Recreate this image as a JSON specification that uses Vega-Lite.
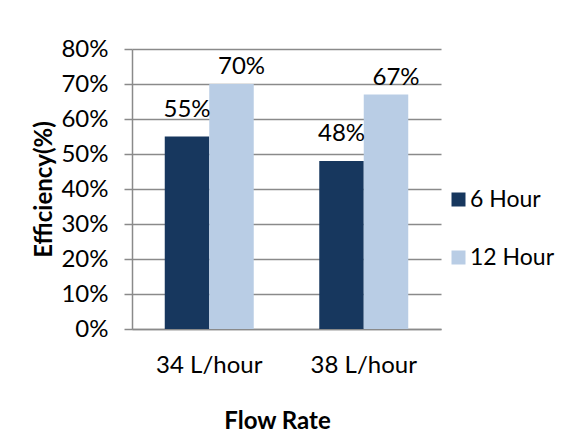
{
  "$schema": "https://vega.github.io/schema/vega-lite/v6.json",
  "width": 309,
  "height": 280,
  "autosize": {"type": "none"},
  "padding": {"left": 132, "top": 49, "right": 121, "bottom": 119},
  "background": "white",
  "config": {"view": {"stroke": null}, "font": "Lato"},
  "data": {
    "values": [
      {"flow": "34 L/hour", "series": "6 Hour", "eff": 0.55},
      {"flow": "34 L/hour", "series": "12 Hour", "eff": 0.70},
      {"flow": "38 L/hour", "series": "6 Hour", "eff": 0.48},
      {"flow": "38 L/hour", "series": "12 Hour", "eff": 0.67}
    ]
  },
  "encoding": {
    "x": {
      "field": "flow", "type": "nominal", "sort": ["34 L/hour", "38 L/hour"],
      "scale": {"paddingInner": 0.424, "paddingOuter": 0.212},
      "axis": {
        "title": "Flow Rate", "labelAngle": 0, "ticks": false, "labelPadding": 24,
        "labelFontSize": 24, "labelColor": "black", "domainColor": "#8a8a8a", "domainWidth": 1.5,
        "titleFontSize": 24, "titleFontWeight": "bold", "titleColor": "black",
        "titleX": 145, "titleY": 80, "titleBaseline": "top", "titleAlign": "center"
      }
    },
    "xOffset": {
      "field": "series", "type": "nominal",
      "scale": {"domain": ["6 Hour", "12 Hour"], "paddingInner": 0, "paddingOuter": 0}
    },
    "y": {
      "field": "eff", "type": "quantitative",
      "scale": {"domain": [0, 0.8], "nice": false},
      "axis": {
        "title": "Efficiency(%)", "format": ".0%", "values": [0, 0.1, 0.2, 0.3, 0.4, 0.5, 0.6, 0.7, 0.8],
        "tickSize": 8, "tickColor": "#8a8a8a", "tickWidth": 1.5,
        "domainColor": "#8a8a8a", "domainWidth": 1.5,
        "gridColor": "#8a8a8a", "gridWidth": 1.5,
        "labelPadding": 16, "labelFontSize": 24, "labelColor": "black",
        "titleFontSize": 24, "titleFontWeight": "bold", "titleColor": "black",
        "titleX": -88, "titleY": 140, "titleAngle": -90, "titleBaseline": "middle", "titleAlign": "center"
      }
    }
  },
  "layer": [
    {
      "mark": {"type": "bar"},
      "encoding": {
        "color": {
          "field": "series", "type": "nominal",
          "scale": {"domain": ["6 Hour", "12 Hour"], "range": ["#17375E", "#B9CDE5"]},
          "legend": {
            "orient": "none", "legendX": 315, "legendY": 139, "title": null,
            "symbolType": "square", "symbolSize": 196, "symbolStrokeWidth": 0,
            "labelFontSize": 23, "labelOffset": 0, "labelLimit": 300, "rowPadding": 34, "labelColor": "black"
          }
        }
      }
    },
    {
      "transform": [{"filter": "datum.series === '6 Hour'"}],
      "mark": {"type": "text", "baseline": "alphabetic", "dy": -20, "fontSize": 24, "color": "black"},
      "encoding": {"text": {"field": "eff", "type": "quantitative", "format": ".0%"}}
    },
    {
      "transform": [{"filter": "datum.series === '12 Hour'"}],
      "mark": {"type": "text", "baseline": "alphabetic", "dy": -10, "dx": 10, "fontSize": 24, "color": "black"},
      "encoding": {"text": {"field": "eff", "type": "quantitative", "format": ".0%"}}
    }
  ]
}
